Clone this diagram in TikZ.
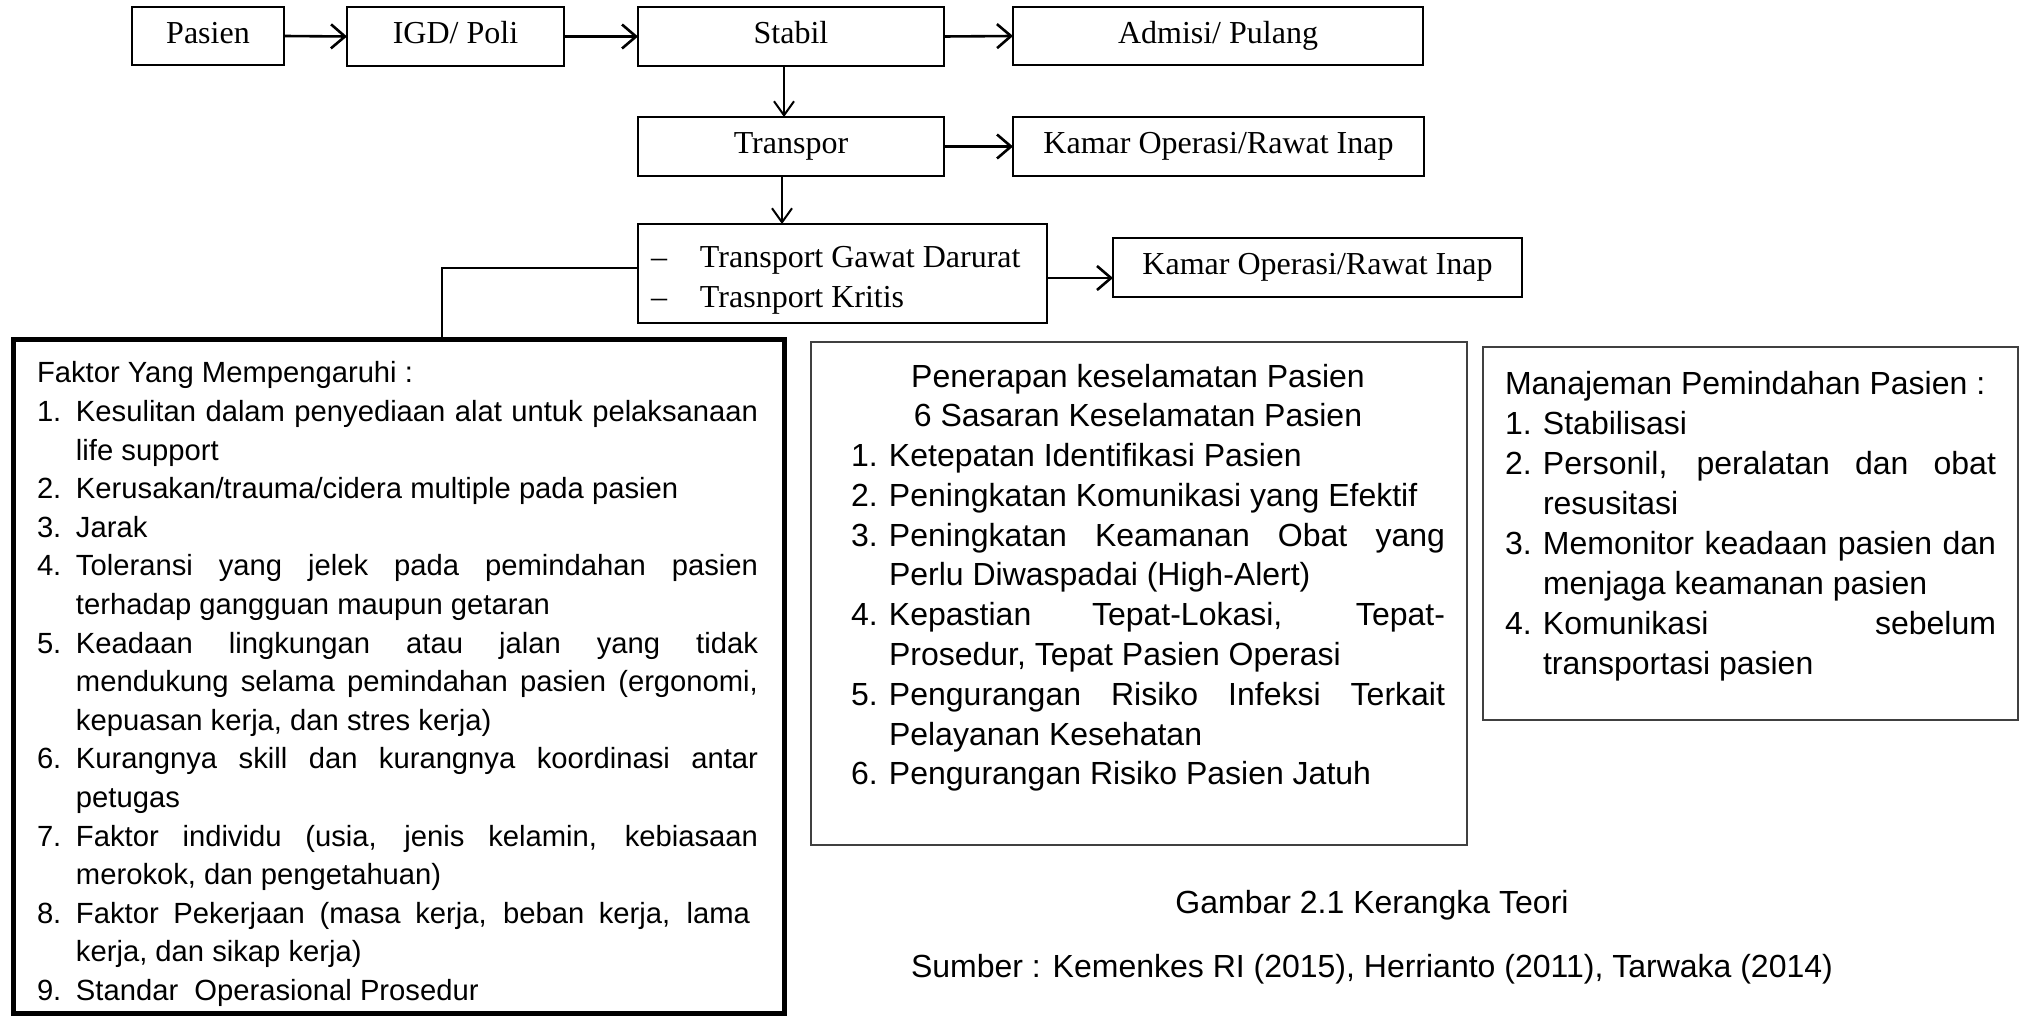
\documentclass[tikz,border=0pt]{standalone}
\usepackage{fontspec}
\setmainfont{Liberation Serif}
\newfontfamily\arialf{Liberation Sans}
\usetikzlibrary{arrows.meta}
\newdimen\pxu \pxu=0.5pt
\newdimen\numw
\newcommand\itemJ[2]{\hbox to\hsize{\hbox to\numw{#1\hss}#2}}
\newcommand\itemR[2]{\hbox to\hsize{\hbox to\numw{#1\hss}#2\hfill}}
\newcommand\contJ[1]{\hbox to\hsize{\hskip\numw\relax #1}}
\newcommand\contR[1]{\hbox to\hsize{\hskip\numw\relax #1\hfill}}
\newcommand\plainR[1]{\hbox to\hsize{#1\hfill}}
\begin{document}
\begin{tikzpicture}[x=0.5pt,y=-0.5pt,
  flowbox/.style={draw, line width=1.1pt, inner sep=0pt, outer sep=0pt,
    text height=11pt, text depth=3.5pt,
    font=\fontsize{16pt}{19pt}\selectfont},
  infobox/.style={draw=black!75, line width=1pt, inner sep=0pt, outer sep=0pt},
  arr/.style={line width=1.3pt, -{Straight Barb[length=7pt,width=12pt]}},
  thinarr/.style={line width=1pt, -{Straight Barb[length=7pt,width=10pt]}},
  txt/.style={anchor=base west, inner sep=0pt, outer sep=0pt}
]
\fill[white] (0,0) rectangle (2026,1016);
\useasboundingbox (0,0) rectangle (2026,1016);

% top flow
\node[flowbox, minimum width=76pt, minimum height=29pt] (pasien) at (208,36) {Pasien};
\node[flowbox, minimum width=108.5pt, minimum height=29.5pt] (igd) at (455.5,36.5) {IGD/ Poli};
\node[flowbox, minimum width=153pt, minimum height=29.5pt] (stabil) at (791,36.5) {Stabil};
\node[flowbox, minimum width=205pt, minimum height=29pt] (admisi) at (1218,36) {Admisi/ Pulang};
\node[flowbox, minimum width=153pt, minimum height=29.5pt] (transpor) at (791,146.5) {Transpor};
\node[flowbox, minimum width=205.5pt, minimum height=29.5pt] (kamar1) at (1218.5,146.5) {Kamar Operasi/Rawat Inap};
\node[draw, line width=1.1pt, inner sep=0pt, outer sep=0pt, minimum width=204.5pt, minimum height=49.5pt] (list) at (842.5,273.5) {};
\node[flowbox, minimum width=204.5pt, minimum height=29.5pt] (kamar2) at (1317.5,267.5) {Kamar Operasi/Rawat Inap};
\node[txt, font=\fontsize{16pt}{20pt}\selectfont] (listtxt) at (651,268)
  {\vtop{\hsize=190pt \baselineskip=20pt \lineskiplimit=-100pt
   \hbox{\hbox to 24.5pt{--\hss}Transport Gawat Darurat}
   \hbox{\hbox to 24.5pt{--\hss}Trasnport Kritis}}};

\draw[arr] (pasien.east) -- (igd.west);
\draw[arr] (igd.east) -- (stabil.west);
\draw[arr] (stabil.east) -- (admisi.west);
\draw[arr] (transpor.east) -- (kamar1.west);
\draw[thinarr] (stabil.south -| 784,0) -- (transpor.north -| 784,0);
\draw[thinarr] (transpor.south -| 782,0) -- (list.north -| 782,0);
\draw[arr] (list.east |- 0,278) -- (kamar2.west |- 0,278);

% info boxes
\node[draw, line width=2.5pt, inner sep=0pt, outer sep=0pt, minimum width=385.5pt, minimum height=336.5pt] (faktor) at (398.5,676.5) {};
\node[infobox, minimum width=328pt, minimum height=251.5pt] (penerapan) at (1139,593.5) {};
\node[infobox, minimum width=267.5pt, minimum height=186.5pt] (manajemen) at (1750.5,533.5) {};

\draw[line width=1pt] (list.west |- 0,268) -| (faktor.north -| 442,0);

% Faktor text
\node[txt, font=\arialf\fontsize{14.6pt}{19.3pt}\selectfont] (faktortxt) at (37,383)
 {\vtop{\hsize=360.5pt \numw=19.5pt \baselineskip=19.3pt \lineskiplimit=-100pt
  \plainR{Faktor Yang Mempengaruhi :}
  \itemJ{1.}{Kesulitan dalam penyediaan alat untuk pelaksanaan}
  \contR{life support}
  \itemR{2.}{Kerusakan/trauma/cidera multiple pada pasien}
  \itemR{3.}{Jarak}
  \itemJ{4.}{Toleransi yang jelek pada pemindahan pasien}
  \contR{terhadap gangguan maupun getaran}
  \itemJ{5.}{Keadaan lingkungan atau jalan yang tidak}
  \contJ{mendukung selama pemindahan pasien (ergonomi,}
  \contR{kepuasan kerja, dan stres kerja)}
  \itemJ{6.}{Kurangnya skill dan kurangnya koordinasi antar}
  \contR{petugas}
  \itemJ{7.}{Faktor individu (usia, jenis kelamin, kebiasaan}
  \contR{merokok, dan pengetahuan)}
  \itemJ{8.}{Faktor Pekerjaan (masa kerja, beban kerja, lama\hskip 4pt}
  \contR{kerja, dan sikap kerja)}
  \itemR{9.}{Standar~ Operasional Prosedur}}};

% Penerapan text
\node[txt, font=\arialf\fontsize{16pt}{19.9pt}\selectfont] (penerapantxt) at (851,387)
 {\vtop{\hsize=297pt \numw=19pt \baselineskip=19.9pt \lineskiplimit=-100pt
  \hbox to\hsize{\hfil Penerapan keselamatan Pasien\hfil\hskip 10pt}
  \hbox to\hsize{\hfil 6 Sasaran Keselamatan Pasien\hfil\hskip 10pt}
  \itemR{1.}{Ketepatan Identifikasi Pasien}
  \itemR{2.}{Peningkatan Komunikasi yang Efektif}
  \itemJ{3.}{Peningkatan Keamanan Obat yang}
  \contR{Perlu Diwaspadai (High-Alert)}
  \itemJ{4.}{Kepastian Tepat-Lokasi, Tepat-}
  \contR{Prosedur, Tepat Pasien Operasi}
  \itemJ{5.}{Pengurangan Risiko Infeksi Terkait}
  \contR{Pelayanan Kesehatan}
  \itemR{6.}{Pengurangan Risiko Pasien Jatuh}}};

% Manajemen text
\node[txt, font=\arialf\fontsize{16pt}{20pt}\selectfont] (manajementxt) at (1505,394)
 {\vtop{\hsize=245.5pt \numw=19pt \baselineskip=20.05pt \lineskiplimit=-100pt
  \plainR{Manajeman Pemindahan Pasien :}
  \itemR{1.}{Stabilisasi}
  \itemJ{2.}{Personil, peralatan dan obat}
  \contR{resusitasi}
  \itemJ{3.}{Memonitor keadaan pasien dan}
  \contR{menjaga keamanan pasien}
  \itemJ{4.}{Komunikasi sebelum}
  \contR{transportasi pasien}}};

% caption
\node[anchor=base, inner sep=0pt, font=\arialf\fontsize{16pt}{19pt}\selectfont] (caption) at (1372,913) {Gambar 2.1 Kerangka Teori};
\node[anchor=base, inner sep=0pt, font=\arialf\fontsize{16pt}{19pt}\selectfont] (source) at (1372,977) {Sumber : Kemenkes RI (2015), Herrianto (2011), Tarwaka (2014)};
\end{tikzpicture}
\end{document}
